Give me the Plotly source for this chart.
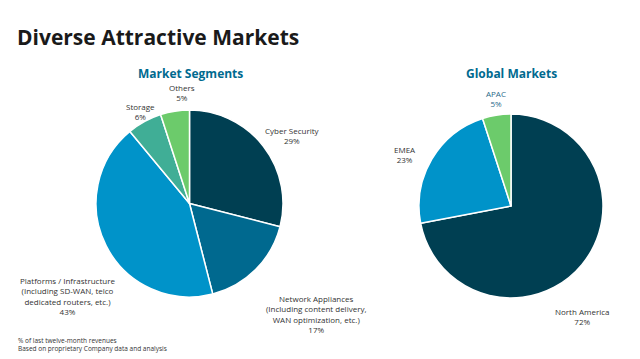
import plotly.graph_objects as go

seg_labels = ["Cyber Security", "Network Appliances", "Platforms / Infrastructure", "Storage", "Others"]
seg_values = [29, 17, 43, 6, 5]
seg_text = ["Cyber Security<br>29%",
            "Network Appliances<br>(Including content delivery,<br>WAN optimization, etc.)<br>17%",
            "Platforms / Infrastructure<br>(Including SD-WAN, telco<br>dedicated routers, etc.)<br>43%",
            "Storage<br>6%",
            "Others<br>5%"]
seg_colors = ["#003f52", "#00698f", "#0093c9", "#40ae96", "#6ccb6b"]

geo_labels = ["North America", "EMEA", "APAC"]
geo_values = [72, 23, 5]
geo_text = ["North America<br>72%", "EMEA<br>23%", "APAC<br>5%"]
geo_colors = ["#003f52", "#0093c9", "#6ccb6b"]

W, H = 640, 359

def px(x): return x / W
def py(y): return 1 - y / H

fig = go.Figure()
fig.add_trace(go.Pie(labels=seg_labels, values=seg_values, sort=False, direction="clockwise",
                     rotation=0, textinfo="none", hoverinfo="label+percent",
                     marker=dict(colors=seg_colors, line=dict(color="white", width=1.5)),
                     domain=dict(x=[px(96), px(283)], y=[py(297), py(110)]), showlegend=False))
fig.add_trace(go.Pie(labels=geo_labels, values=geo_values, sort=False, direction="clockwise",
                     rotation=0, textinfo="none", hoverinfo="label+percent",
                     marker=dict(colors=geo_colors, line=dict(color="white", width=1.5)),
                     domain=dict(x=[px(419), px(603)], y=[py(298), py(114)]), showlegend=False))

lab_font = dict(family="Open Sans", size=8, color="#333333")
ann = []
def add(text, x, y, font, xanchor="center", align="center"):
    ann.append(dict(text=text, x=px(x), y=py(y), xref="paper", yref="paper", showarrow=False,
                    xanchor=xanchor, yanchor="middle", align=align, font=font))

add("<b>Diverse Attractive Markets</b>", 15, 37, dict(family="Open Sans", size=21, color="#1a1a1a"), xanchor="left", align="left")
add("<b>Market Segments</b>", 190, 73, dict(family="Open Sans", size=12, color="#006a8f"))
add("<b>Global Markets</b>", 511, 73, dict(family="Open Sans", size=12, color="#006a8f"))

# segment labels
add(seg_text[4], 182, 92, lab_font)
add(seg_text[3], 140, 111, lab_font)
add(seg_text[0], 292, 135, lab_font)
add(seg_text[2], 67, 296, lab_font)
add(seg_text[1], 316, 314, lab_font)

# geo labels
add(geo_text[2], 496, 98, dict(family="Open Sans", size=8, color="#2a6a8a"))
add(geo_text[1], 405, 154, lab_font)
add(geo_text[0], 582, 316, lab_font)

add("% of last twelve-month revenues<br>Based on proprietary Company data and analysis", 16, 344,
    dict(family="Open Sans", size=6.5, color="#333333"), xanchor="left", align="left")

fig.update_layout(width=W, height=H, margin=dict(l=0, r=0, t=0, b=0),
                  paper_bgcolor="white", plot_bgcolor="white", annotations=ann)
fig.write_html("out.html", config={"displayModeBar": False},
               post_script="document.body.style.margin='0px';document.body.style.overflow='hidden';")
